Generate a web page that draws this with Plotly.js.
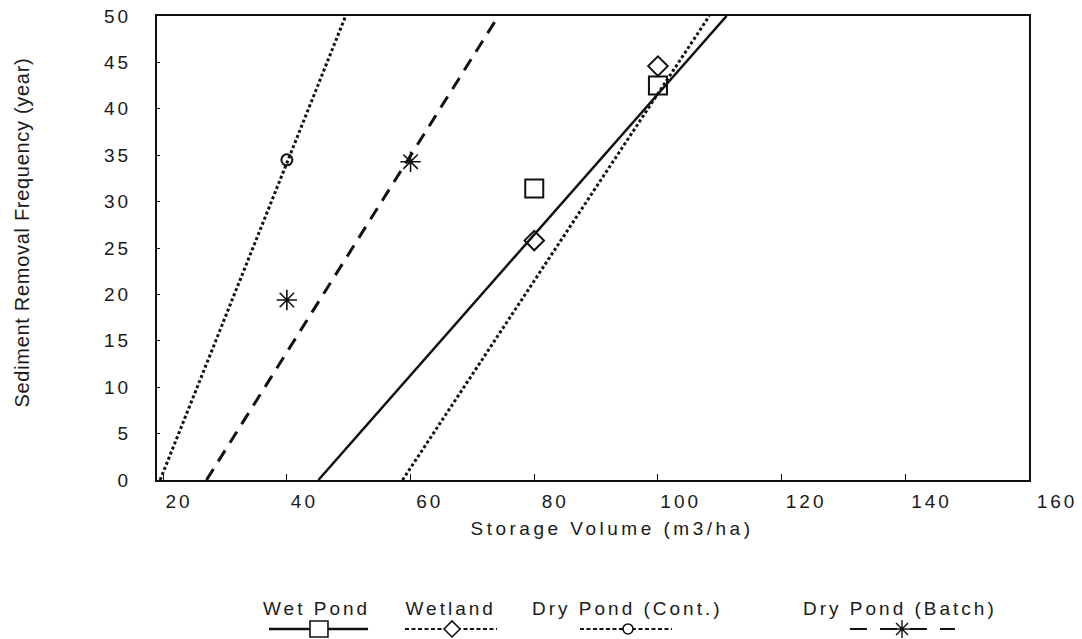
<!DOCTYPE html>
<html>
<head>
<meta charset="utf-8">
<script src="https://cdn.plot.ly/plotly-3.0.1.min.js"></script>
<style>
  html, body { margin: 0; padding: 0; background: #fff; }
  #chart { width: 1082px; height: 639px; }
  .xtick text, .x2tick text, .ytick text { letter-spacing: 3px; }
  text.x2title { letter-spacing: 3.5px; }
  .annotation text { letter-spacing: 3px; }
  .annotation[data-index="0"] text { letter-spacing: 0.7px; }
</style>
</head>
<body>
<div id="chart"></div>
<script>
// ---- data ----
const seriesNames = ['Wet Pond', 'Wetland', 'Dry Pond (Cont.)', 'Dry Pond (Batch)'];

const wetPondX = [80, 100];
const wetPondY = [31.4, 42.5];
const wetlandX = [80, 100];
const wetlandY = [25.8, 44.6];
const dryContX = [40];
const dryContY = [34.5];
const dryBatchX = [40, 60];
const dryBatchY = [19.4, 34.3];

// fitted trend lines (x at y = 0 and at y = 50)
const fitY = [0, 50];
const wetPondFitX = [45.1, 111.1];
const wetlandFitX = [58.7, 108.3];
const dryContFitX = [19.5, 49.5];
const dryBatchFitX = [27.0, 74.2];

const xTickVals = [20, 40, 60, 80, 100, 120, 140, 160];
const xTickText = ['20', '40', '60', '80', '100', '120', '140', '160'];
const yTickVals = [0, 5, 10, 15, 20, 25, 30, 35, 40, 45, 50];

// ---- styling ----
const ink = '#111111';
const fontFam = '"Liberation Sans", Arial, sans-serif';

const styles = [
  { line: { color: ink, width: 2.5, dash: 'solid' }, marker: { symbol: 'square-open', size: 18, color: ink, line: { width: 2 } } },
  { line: { color: ink, width: 3, dash: '3px,2.5px' }, marker: { symbol: 'diamond-open', size: 15, color: ink, line: { width: 2 } } },
  { line: { color: ink, width: 3, dash: '3px,2.5px' }, marker: { symbol: 'circle-open', size: 11, color: ink, line: { width: 2 } } },
  { line: { color: ink, width: 3, dash: '13px,9px' }, marker: { symbol: 'asterisk-open', size: 17, color: ink, line: { width: 1.6 } } }
];

const fitXs = [wetPondFitX, wetlandFitX, dryContFitX, dryBatchFitX];
const ptXs = [wetPondX, wetlandX, dryContX, dryBatchX];
const ptYs = [wetPondY, wetlandY, dryContY, dryBatchY];

const traces = [];
for (let i = 0; i < seriesNames.length; i++) {
  traces.push({ x: fitXs[i], y: fitY, mode: 'lines', line: styles[i].line, name: seriesNames[i], showlegend: false, hoverinfo: 'skip' });
}
for (let i = 0; i < seriesNames.length; i++) {
  traces.push({ x: ptXs[i], y: ptYs[i], mode: 'markers', marker: styles[i].marker, name: seriesNames[i], showlegend: false, cliponaxis: false });
}
// empty trace so the tick-label axis exists
traces.push({ x: [], y: [], xaxis: 'x2', yaxis: 'y', mode: 'markers', showlegend: false, hoverinfo: 'skip' });

// ---- custom legend (text above sample) ----
const legTextY = -0.278, legSymY = -0.321;
const legCenters = [0.1753, 0.3220, 0.5170, 0.8170];
const legMarkX = [0.1780, 0.3242, 0.5176, 0.8187];
const legLineX = [[0.1231, 0.2319], [0.2725, 0.3736], [0.4648, 0.5659], [0.7615, 0.8769]];
const legDash = ['solid', '4px,2.5px', '4px,2.5px', '17px,13px'];
const legWidth = [2.5, 2, 2, 2];

const annotations = [{
  text: 'Sediment Removal Frequency (year)', xref: 'paper', yref: 'paper', x: -0.1484, y: 0.5345,
  textangle: -90, showarrow: false, xanchor: 'center', yanchor: 'middle',
  font: { family: fontFam, size: 20, color: '#1a1a1a' }
}];
const shapes = [];
for (let i = 0; i < seriesNames.length; i++) {
  annotations.push({ text: seriesNames[i], xref: 'paper', yref: 'paper', x: legCenters[i], y: legTextY,
    showarrow: false, xanchor: 'center', yanchor: 'middle', font: { family: fontFam, size: 19, color: '#1a1a1a' } });
  shapes.push({ type: 'line', xref: 'paper', yref: 'paper', x0: legLineX[i][0], x1: legLineX[i][1], y0: legSymY, y1: legSymY,
    line: { color: ink, width: legWidth[i], dash: legDash[i] } });
}
const mk = (extra, i) => Object.assign({ xref: 'paper', yref: 'paper', xsizemode: 'pixel', ysizemode: 'pixel',
  xanchor: legMarkX[i], yanchor: legSymY, fillcolor: '#ffffff', line: { color: ink, width: 1.6 } }, extra);
shapes.push(mk({ type: 'rect', x0: -9, x1: 9, y0: -8, y1: 8 }, 0));
shapes.push(mk({ type: 'path', path: 'M -8 0 L 0 8 L 8 0 L 0 -8 Z' }, 1));
shapes.push(mk({ type: 'circle', x0: -5, x1: 5, y0: -5, y1: 5 }, 2));
shapes.push(mk({ type: 'path', path: 'M -9 0 L 9 0 M 0 -9 L 0 9 M -6 -6 L 6 6 M -6 6 L 6 -6', fillcolor: 'rgba(0,0,0,0)', line: { color: ink, width: 1.4 } }, 3));

const layout = {
  width: 1082, height: 639,
  margin: { l: 157, r: 15, t: 16, b: 159, pad: 0 },
  paper_bgcolor: '#ffffff', plot_bgcolor: 'rgba(0,0,0,0)',
  font: { family: fontFam, size: 19, color: '#1a1a1a' },
  showlegend: false,
  xaxis: {
    domain: [0, 872 / 910], range: [19, 160], tickmode: 'array', tickvals: xTickVals,
    showticklabels: false, ticks: 'inside', ticklen: 6, tickwidth: 1, tickcolor: ink,
    showline: true, linecolor: ink, linewidth: 2, mirror: true, showgrid: false, zeroline: false, fixedrange: true
  },
  xaxis2: {
    domain: [0, 1], anchor: 'y', range: [16.49, 161.6], tickmode: 'array', tickvals: xTickVals, ticktext: xTickText,
    ticks: '', showline: false, showgrid: false, zeroline: false, ticklabelstandoff: 8,
    tickfont: { family: fontFam, size: 19, color: '#1a1a1a' },
    title: { text: 'Storage Volume (m3/ha)', standoff: 10, font: { family: fontFam, size: 19, color: '#1a1a1a' } }
  },
  yaxis: {
    range: [0, 50], tickmode: 'array', tickvals: yTickVals, ticks: 'inside', ticklen: 3, tickwidth: 1, tickcolor: ink,
    showline: true, linecolor: ink, linewidth: 2, mirror: true, showgrid: false, zeroline: false,
    ticklabelstandoff: 20, tickfont: { family: fontFam, size: 19, color: '#1a1a1a' }, fixedrange: true
  },
  annotations: annotations,
  shapes: shapes
};

Plotly.newPlot('chart', traces, layout, { displayModeBar: false, staticPlot: true });
</script>
</body>
</html>
